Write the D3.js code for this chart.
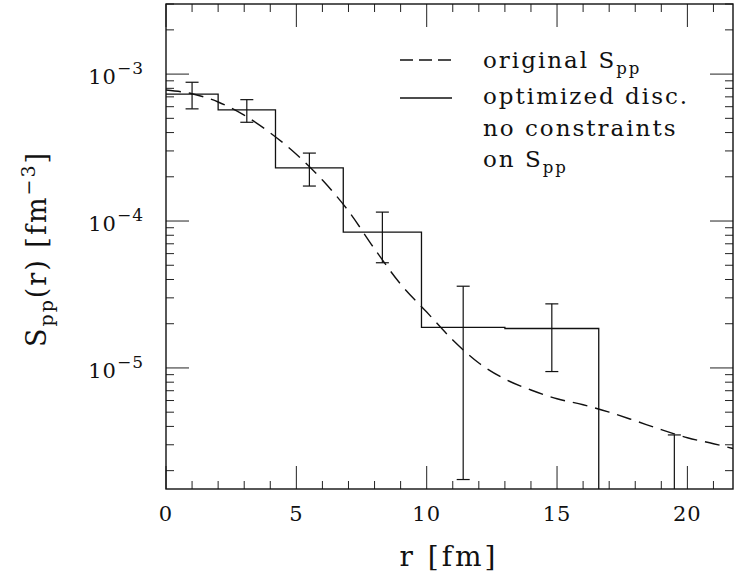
<!DOCTYPE html>
<html>
<head>
<meta charset="utf-8">
<script src="https://cdn.jsdelivr.net/npm/d3@7"></script>
<style>
  body { margin: 0; background: #fff; }
  text { font-family: "DejaVu Serif", "Liberation Serif", serif; fill: #111; }
</style>
</head>
<body>
<div id="chart"></div>
<script>
// histogram of the optimized discretization (bin edges + bin values)
var binEdges = [0, 2, 4.2, 6.8, 9.8, 13, 16.6, 22];
var binValues = [7.3e-4, 5.7e-4, 2.3e-4, 8.4e-5, 1.89e-5, 1.855e-5, 0];

// error bars
var errR = [1, 3.1, 5.5, 8.3, 11.4, 14.8, 19.5];
var errHi = [8.8e-4, 6.7e-4, 2.9e-4, 1.15e-4, 3.6e-5, 2.73e-5, 3.5e-6];
var errLo = [5.8e-4, 4.7e-4, 1.73e-4, 5.2e-5, 1.74e-6, 9.45e-6, 0];

// original S_pp curve
var origR = [0, 1, 2, 3, 4, 5, 6, 7, 8, 9, 10, 11, 12, 13, 14, 15, 16, 17, 18, 19, 20, 21, 21.75];
var origS = [7.8e-4, 7.35e-4, 6.46e-4, 5.25e-4, 3.98e-4, 2.85e-4, 1.9e-4, 1.17e-4, 6.46e-5, 3.72e-5,
             2.4e-5, 1.55e-5, 1.08e-5, 8.4e-6, 7.08e-6, 6.17e-6, 5.62e-6, 5.0e-6, 4.37e-6, 3.8e-6,
             3.35e-6, 3.05e-6, 2.83e-6];

var xMajor = [0, 5, 10, 15, 20];
var yMajor = [1e-3, 1e-4, 1e-5];
var yMajorExp = ["\u22123", "\u22124", "\u22125"];

var width = 734;
var height = 577;
var plotL = 166, plotR = 733, plotT = 4, plotB = 489;

var svg = d3.select('#chart')
    .append('svg')
    .attr('width', width)
    .attr('height', height);

var x = d3.scaleLinear().domain([0, 21.75]).range([plotL, plotR]);
var y = d3.scaleLog().domain([1.5e-6, 3e-3]).range([plotB, plotT]).clamp(true);

// zero values fall below the axis
function yv(v) {
    return v > 0 ? y(v) : plotB + 2;
}

svg.append('defs').append('clipPath').attr('id', 'clip')
    .append('rect')
    .attr('x', plotL).attr('y', plotT)
    .attr('width', plotR - plotL).attr('height', plotB - plotT);

// minor/major ticks on both sides
var xTicks = d3.range(0, 22, 1);
var yTicks = [];
[1e-6, 1e-5, 1e-4, 1e-3].forEach(function (d) {
    for (var k = 1; k <= 9; k++) {
        var v = d * k;
        if (v >= 1.5e-6 && v <= 3e-3) yTicks.push(v);
    }
});

var ticks = svg.append('g').attr('stroke', '#222').attr('stroke-width', 1);

xTicks.forEach(function (t) {
    var len = (t % 5 === 0) ? 23 : 8;
    ticks.append('line')
        .attr('x1', x(t)).attr('x2', x(t))
        .attr('y1', plotB).attr('y2', plotB - len);
    ticks.append('line')
        .attr('x1', x(t)).attr('x2', x(t))
        .attr('y1', plotT).attr('y2', plotT + len);
});

yTicks.forEach(function (t) {
    var major = yMajor.some(function (m) { return Math.abs(m - t) / m < 1e-6; });
    var len = major ? 23 : 8;
    ticks.append('line')
        .attr('x1', plotL).attr('x2', plotL + len)
        .attr('y1', y(t)).attr('y2', y(t));
    ticks.append('line')
        .attr('x1', plotR).attr('x2', plotR - len)
        .attr('y1', y(t)).attr('y2', y(t));
});

// frame
svg.append('rect')
    .attr('x', plotL).attr('y', plotT)
    .attr('width', plotR - plotL).attr('height', plotB - plotT)
    .attr('fill', 'none')
    .attr('stroke', '#111')
    .attr('stroke-width', 1.4);

// x tick labels
svg.append('g').selectAll('text')
    .data(xMajor)
    .enter()
    .append('text')
        .attr('x', function (d) { return x(d); })
        .attr('y', 521)
        .attr('text-anchor', 'middle')
        .attr('font-size', 21)
        .attr('letter-spacing', 1)
        .text(function (d) { return d; });

// y tick labels: 10^-n
yMajor.forEach(function (v, i) {
    var t = svg.append('text')
        .attr('x', 144)
        .attr('y', y(v) + 10)
        .attr('text-anchor', 'end')
        .attr('font-size', 21)
        .attr('letter-spacing', 1);
    t.append('tspan').text('10');
    t.append('tspan')
        .attr('dy', -10)
        .attr('font-size', 17)
        .text(yMajorExp[i]);
});

var plot = svg.append('g').attr('clip-path', 'url(#clip)');

// histogram as a step line
var stepPts = [];
for (var i = 0; i < binValues.length; i++) {
    stepPts.push([x(binEdges[i]), yv(binValues[i])]);
    stepPts.push([x(binEdges[i + 1]), yv(binValues[i])]);
}
plot.append('path')
    .attr('d', d3.line()(stepPts))
    .attr('fill', 'none')
    .attr('stroke', '#111')
    .attr('stroke-width', 1.3);

// error bars
var cap = 6.5;
errR.forEach(function (r, i) {
    var cx = x(r);
    plot.append('line')
        .attr('x1', cx).attr('x2', cx)
        .attr('y1', yv(errHi[i])).attr('y2', yv(errLo[i]))
        .attr('stroke', '#111').attr('stroke-width', 1.2);
    plot.append('line')
        .attr('x1', cx - cap).attr('x2', cx + cap)
        .attr('y1', yv(errHi[i])).attr('y2', yv(errHi[i]))
        .attr('stroke', '#111').attr('stroke-width', 1.2);
    if (errLo[i] > 0) {
        plot.append('line')
            .attr('x1', cx - cap).attr('x2', cx + cap)
            .attr('y1', yv(errLo[i])).attr('y2', yv(errLo[i]))
            .attr('stroke', '#111').attr('stroke-width', 1.2);
    }
});

// original curve, dashed
var curve = d3.line()
    .x(function (d, i) { return x(origR[i]); })
    .y(function (d) { return y(d); })
    .curve(d3.curveMonotoneX);
plot.append('path')
    .attr('d', curve(origS))
    .attr('fill', 'none')
    .attr('stroke', '#111')
    .attr('stroke-width', 1.4)
    .attr('stroke-dasharray', '15,8');

// legend
var legend = svg.append('g');
legend.append('line')
    .attr('x1', 400).attr('x2', 452)
    .attr('y1', 60).attr('y2', 60)
    .attr('stroke', '#111').attr('stroke-width', 1.3)
    .attr('stroke-dasharray', '13,6');
legend.append('line')
    .attr('x1', 400).attr('x2', 452)
    .attr('y1', 98).attr('y2', 98)
    .attr('stroke', '#111').attr('stroke-width', 1.3);

function subText(g, xx, yy, main, sub, size) {
    var t = g.append('text')
        .attr('x', xx).attr('y', yy)
        .attr('font-size', size)
        .attr('letter-spacing', 2);
    t.append('tspan').text(main);
    t.append('tspan').attr('dy', 6).attr('font-size', size * 0.72).text(sub);
    return t;
}

subText(legend, 483, 68, 'original S', 'pp', 23);
legend.append('text').attr('x', 483).attr('y', 104).attr('font-size', 23)
    .attr('letter-spacing', 2).text('optimized disc.');
legend.append('text').attr('x', 483).attr('y', 136).attr('font-size', 23)
    .attr('letter-spacing', 2).text('no constraints');
subText(legend, 483, 167, 'on S', 'pp', 23);

// axis titles
svg.append('text')
    .attr('x', 449)
    .attr('y', 566)
    .attr('text-anchor', 'middle')
    .attr('font-size', 28)
    .attr('letter-spacing', 3)
    .text('r [fm]');

var yt = svg.append('text')
    .attr('transform', 'translate(46,249) rotate(-90)')
    .attr('text-anchor', 'middle')
    .attr('font-size', 27)
    .attr('letter-spacing', 2);
yt.append('tspan').text('S');
yt.append('tspan').attr('dy', 7).attr('font-size', 19).text('pp');
yt.append('tspan').attr('dy', -7).text('(r)  [fm');
yt.append('tspan').attr('dy', -11).attr('font-size', 19).text('\u22123');
yt.append('tspan').attr('dy', 11).text(']');
</script>
</body>
</html>
